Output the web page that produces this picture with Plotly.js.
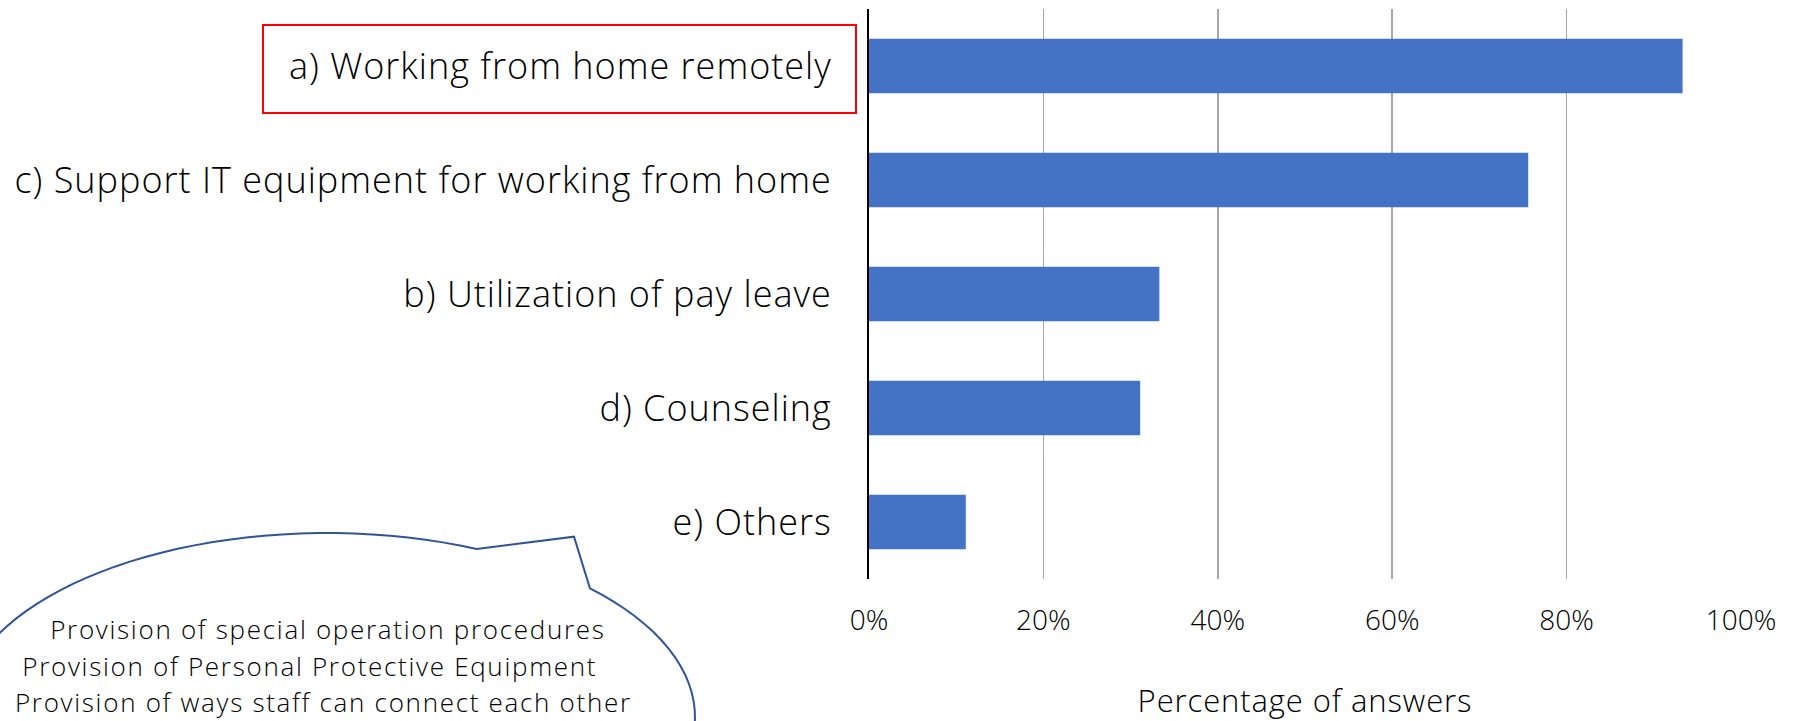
<!DOCTYPE html>
<html>
<head>
<meta charset="utf-8">
<script src="https://cdn.plot.ly/plotly-3.0.1.min.js"></script>
<style>
html,body{margin:0;padding:0;background:#fff;}
#chart{width:1801px;height:721px;}
#chart .ytick text{letter-spacing:1px;}
#chart .g-xtitle text{letter-spacing:0.9px;}
#chart .annotation text{letter-spacing:1.7px;}
</style>
</head>
<body>
<div id="chart"></div>
<script>
const categories = [
  "a) Working from home remotely",
  "c) Support IT equipment for working from home",
  "b) Utilization of pay leave",
  "d) Counseling",
  "e) Others"
];
const values = [0.933, 0.756, 0.333, 0.311, 0.111];
const xTickValues = [0, 0.2, 0.4, 0.6, 0.8, 1.0];
const xTitle = "Percentage of answers";
const bubbleLines = [
  "Provision of special operation procedures",
  "Provision of Personal Protective Equipment",
  "Provision of ways staff can connect each other"
];

const W = 1801, H = 721;
const M = {l: 869, r: 60, t: 9, b: 142};
const PW = W - M.l - M.r, PH = H - M.t - M.b;
function px(x) { return (x - M.l) / PW; }
function py(y) { return (H - M.b - y) / PH; }

// oval callout path in paper coordinates
const cx = 327, cy = 717, rx = 368, ry = 184;
const tip = [574, 536.7];
const a1 = -66 * Math.PI / 180, a2 = -44.4 * Math.PI / 180;
let pts = [];
const steps = 120;
for (let i = 0; i <= steps; i++) {
  const t = a2 + (2 * Math.PI - (a2 - a1)) * i / steps;
  pts.push([cx + rx * Math.cos(t), cy + ry * Math.sin(t)]);
}
let path = "M " + px(pts[0][0]) + "," + py(pts[0][1]);
for (let i = 1; i < pts.length; i++) path += " L " + px(pts[i][0]) + "," + py(pts[i][1]);
path += " L " + px(tip[0]) + "," + py(tip[1]) + " Z";

const font = "Open Sans, Noto Sans, sans-serif";

const data = [{
  type: "bar",
  orientation: "h",
  y: categories,
  x: values,
  marker: {color: "#4472c4"},
  hoverinfo: "x+y"
}];

const lineX = [328, 310, 323];
const lineY = [629, 665.5, 702];
const bubbleAnnotations = bubbleLines.map((t, i) => ({
  xref: "paper", yref: "paper",
  x: px(lineX[i]), y: py(lineY[i]),
  xanchor: "center", yanchor: "middle",
  text: t, showarrow: false, align: "center",
  font: {size: 26, family: font, color: "#000", weight: 300}
}));

const layout = {
  width: W, height: H,
  margin: M,
  paper_bgcolor: "#fff",
  plot_bgcolor: "#fff",
  showlegend: false,
  bargap: 0.52,
  font: {family: font, color: "#000", weight: 300},
  xaxis: {
    range: [0, 1],
    tickvals: xTickValues,
    tickformat: ".0%",
    showgrid: true,
    gridcolor: "#a6a6a6",
    gridwidth: 1.5,
    zeroline: false,
    showline: false,
    ticks: "",
    ticklabelstandoff: 22,
    tickfont: {size: 28, family: font, color: "#000", weight: 300},
    title: {text: xTitle, font: {size: 31, family: font, color: "#000", weight: 300}, standoff: 62}
  },
  yaxis: {
    type: "category",
    categoryorder: "array",
    categoryarray: categories,
    autorange: "reversed",
    showline: true,
    linecolor: "#000",
    linewidth: 2,
    showgrid: false,
    ticks: "",
    ticklabelstandoff: 28,
    tickfont: {size: 36, family: font, color: "#000", weight: 300}
  },
  shapes: [
    {type: "rect", xref: "paper", yref: "paper",
     x0: px(263), x1: px(856), y0: py(25), y1: py(113),
     line: {color: "#ff0000", width: 2}, fillcolor: "rgba(0,0,0,0)"},
    {type: "path", xref: "paper", yref: "paper", path: path,
     line: {color: "#2f5597", width: 2}, fillcolor: "rgba(255,255,255,0)"}
  ],
  annotations: bubbleAnnotations
};

Plotly.newPlot("chart", data, layout, {displayModeBar: false, staticPlot: true});
</script>
</body>
</html>
